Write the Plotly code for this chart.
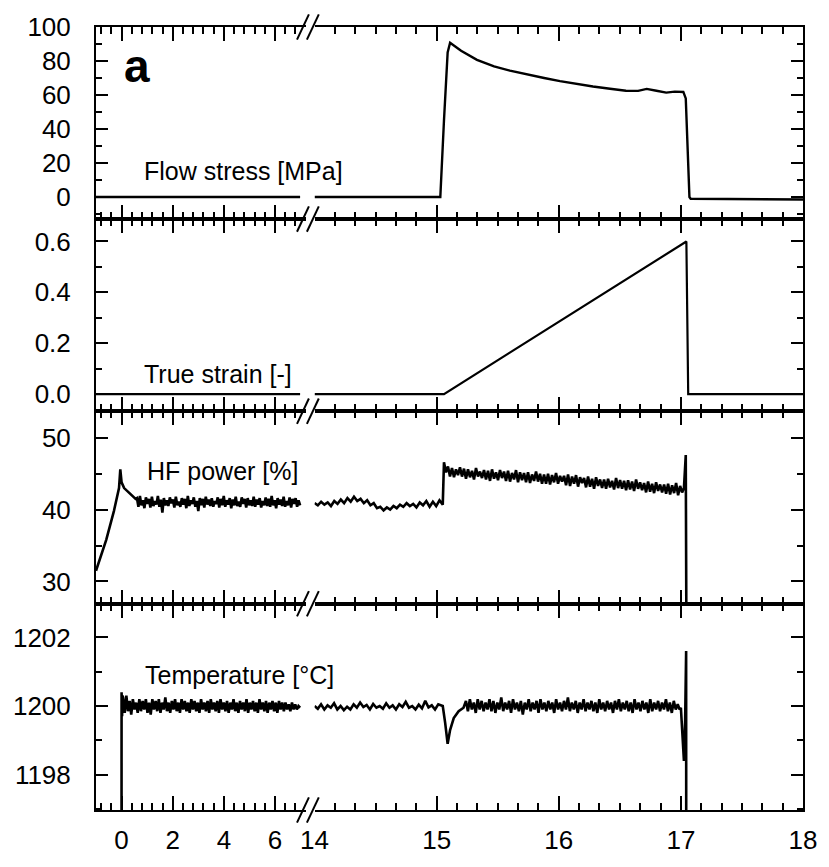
import numpy as np
import plotly.graph_objects as go

# ---------------- data ----------------
x_ticks_left = [0, 2, 4, 6]
x_ticks_right = [14, 15, 16, 17, 18]

# Flow stress [MPa]
stress_left_x = [-1.0, 6.98]
stress_left_y = [0.0, 0.0]
stress_right_x = [14.0, 15.03, 15.06, 15.09, 15.11, 15.2, 15.33, 15.47, 15.6, 15.74,
                  15.88, 16.01, 16.15, 16.28, 16.42, 16.55, 16.65, 16.72, 16.8, 16.88,
                  16.95, 17.02, 17.04, 17.055, 17.07, 17.08, 18.0]
stress_right_y = [0.0, 0.0, 45.0, 85.0, 90.7, 86.0, 80.7, 76.8, 74.3, 72.0,
                  70.0, 68.2, 66.5, 65.0, 63.7, 62.5, 62.4, 63.6, 62.5, 61.4,
                  62.0, 61.8, 58.0, 30.0, 0.0, -1.0, -1.5]

# True strain [-]
strain_left_x = [-1.0, 6.98]
strain_left_y = [0.0, 0.0]
strain_right_x = [14.0, 15.06, 17.045, 17.06, 18.0]
strain_right_y = [0.0, 0.0, 0.6, 0.0, 0.0]

# HF power [%]
hf_start_x = [-1.0, -0.6, -0.3, -0.1, -0.05, 0.0, 0.1, 0.25, 0.4, 0.55]
hf_start_y = [31.5, 35.8, 39.8, 43.0, 45.6, 43.8, 43.0, 42.5, 41.9, 41.5]
hf_left_noise = [41.6, 40.4, 41.9, 40.6, 41.3, 40.2, 41.7, 40.8, 41.5, 40.3,
                 41.8, 40.5, 41.2, 40.7, 41.9, 40.4, 41.4, 39.6, 41.6, 40.6,
                 41.3, 40.5, 41.7, 40.9, 41.4, 40.3, 41.8, 40.6, 41.1, 40.4,
                 41.6, 40.7, 41.5, 40.2, 41.9, 40.5, 41.3, 40.8, 41.7, 40.4,
                 41.2, 39.8, 41.6, 40.6, 41.5, 40.3, 41.8, 40.7, 41.4, 40.5,
                 41.6, 40.4, 41.2, 40.8, 41.7, 40.3, 41.5, 40.6, 41.9, 40.4,
                 41.3, 40.7, 41.6, 40.2, 41.4, 40.6, 41.8, 40.5, 41.1, 40.4,
                 41.7, 40.8, 41.5, 40.3, 41.6, 40.6, 41.3, 40.5, 41.8, 40.4,
                 41.4, 40.7, 41.6, 40.3, 41.2, 40.6, 41.7, 40.5, 41.5, 40.4,
                 41.9, 40.6, 41.3, 40.2, 41.6, 40.7, 41.4, 40.5, 41.8, 40.4,
                 41.2, 40.6, 41.7, 40.3, 41.5, 40.8, 41.6, 40.4, 41.3, 40.6]
hf_left_noise_t = [0.6, 6.98]
hf_pre = [40.9, 40.6, 41.1, 40.7, 41.0, 40.5, 41.2, 40.8, 41.4, 40.9,
          41.6, 41.1, 41.8, 41.2, 41.5, 40.9, 41.3, 40.6, 40.9, 40.2,
          40.4, 39.9, 40.3, 40.0, 40.5, 40.2, 40.7, 40.4, 40.9, 40.5,
          40.8, 40.3, 41.0, 40.6, 41.2, 40.4, 41.1, 40.5, 41.3, 40.7]
hf_pre_t = [14.0, 15.05]
hf_def = [46.6, 45.2, 46.0, 44.6, 45.8, 44.5, 45.6, 44.8, 45.9, 44.6,
          45.7, 44.3, 45.6, 44.5, 45.4, 44.2, 45.8, 44.6, 45.3, 44.4,
          45.5, 44.2, 45.4, 44.0, 45.6, 44.3, 45.2, 44.1, 45.5, 44.4,
          45.3, 44.0, 45.4, 43.9, 45.1, 44.2, 45.5, 43.8, 45.2, 44.1,
          45.1, 43.8, 45.2, 43.7, 44.9, 44.0, 45.3, 43.9, 45.0, 43.6,
          44.9, 43.6, 45.0, 43.5, 44.8, 43.8, 45.1, 43.6, 44.7, 43.9,
          44.7, 43.4, 44.9, 43.3, 44.6, 43.6, 44.8, 43.2, 44.5, 43.7,
          44.4, 43.1, 44.6, 43.2, 44.3, 42.9, 44.5, 43.3, 44.2, 43.0,
          44.2, 42.9, 44.3, 43.1, 44.0, 42.8, 44.4, 43.0, 44.1, 42.9,
          44.0, 42.7, 44.1, 42.8, 43.9, 42.6, 44.2, 42.9, 43.8, 42.7,
          43.7, 42.4, 43.9, 42.5, 43.6, 42.3, 43.8, 42.6, 43.5, 42.4,
          43.5, 42.2, 43.6, 42.1, 43.4, 42.3, 43.7, 42.0, 43.3, 42.4]
hf_def_t = [15.06, 17.01]
hf_end_x = [17.025, 17.04, 17.05, 18.0]
hf_end_y = [43.0, 47.6, 0.0, 0.0]

# Temperature [°C]
temp_start_x = [-1.0, -0.02, 0.0, 0.02, 0.04]
temp_start_y = [1150.0, 1150.0, 1200.4, 1199.7, 1200.3]
temp_left_noise = [1200.25, 1199.8, 1200.3, 1199.85, 1200.15, 1199.75, 1200.2, 1199.9, 1200.1, 1199.8,
                   1200.2, 1199.85, 1200.15, 1199.9, 1200.2, 1199.8, 1200.1, 1199.75, 1200.2, 1199.9,
                   1200.15, 1199.85, 1200.2, 1199.8, 1200.1, 1199.9, 1200.25, 1199.85, 1200.1, 1199.8,
                   1200.15, 1199.9, 1200.2, 1199.85, 1200.1, 1199.8, 1200.2, 1199.9, 1200.15, 1199.85,
                   1200.1, 1199.8, 1200.2, 1199.9, 1200.15, 1199.85, 1200.1, 1199.8, 1200.2, 1199.9,
                   1200.1, 1199.85, 1200.15, 1199.8, 1200.2, 1199.9, 1200.1, 1199.85, 1200.15, 1199.8,
                   1200.2, 1199.9, 1200.1, 1199.85, 1200.15, 1199.8, 1200.1, 1199.9, 1200.2, 1199.85,
                   1200.1, 1199.8, 1200.15, 1199.9, 1200.1, 1199.85, 1200.2, 1199.8, 1200.1, 1199.9,
                   1200.15, 1199.85, 1200.1, 1199.8, 1200.2, 1199.9, 1200.1, 1199.85, 1200.15, 1199.8,
                   1200.1, 1199.9, 1200.15, 1199.85, 1200.1, 1199.8, 1200.15, 1199.9, 1200.1, 1199.85,
                   1200.1, 1199.9, 1200.05, 1199.85, 1200.1, 1199.9, 1200.05, 1199.9, 1200.0, 1199.95]
temp_left_noise_t = [0.06, 6.98]
temp_pre = [1200.0, 1199.92, 1200.05, 1199.9, 1200.02, 1199.95, 1200.08, 1199.9, 1200.0, 1199.88,
            1199.98, 1199.9, 1200.05, 1199.95, 1200.1, 1199.97, 1200.03, 1199.9, 1200.06, 1199.95,
            1200.0, 1199.92, 1200.08, 1199.95, 1200.02, 1199.9, 1200.05, 1199.97, 1200.12, 1199.95,
            1200.0, 1199.9, 1200.04, 1199.93, 1200.15, 1199.96, 1200.02, 1199.9, 1200.05, 1200.0]
temp_pre_t = [14.0, 15.04]
temp_dip_x = [15.05, 15.07, 15.09, 15.11, 15.14, 15.18, 15.22]
temp_dip_y = [1200.0, 1199.5, 1198.9, 1199.3, 1199.65, 1199.85, 1199.95]
temp_def = [1200.15, 1199.85, 1200.2, 1199.9, 1200.1, 1199.8, 1200.2, 1199.9, 1200.15, 1199.85,
            1200.1, 1199.9, 1200.2, 1199.85, 1200.15, 1199.8, 1200.1, 1199.9, 1200.25, 1199.85,
            1200.1, 1199.9, 1200.15, 1199.8, 1200.2, 1199.9, 1200.1, 1199.85, 1200.15, 1199.75,
            1200.1, 1199.9, 1200.2, 1199.85, 1200.1, 1199.9, 1200.15, 1199.8, 1200.2, 1199.9,
            1200.1, 1199.85, 1200.15, 1199.9, 1200.1, 1199.8, 1200.2, 1199.9, 1200.1, 1199.85,
            1200.15, 1199.9, 1200.25, 1199.85, 1200.1, 1199.9, 1200.15, 1199.8, 1200.1, 1199.9,
            1200.2, 1199.85, 1200.1, 1199.9, 1200.15, 1199.85, 1200.1, 1199.8, 1200.2, 1199.9,
            1200.1, 1199.85, 1200.15, 1199.9, 1200.1, 1199.8, 1200.15, 1199.9, 1200.2, 1199.85,
            1200.1, 1199.9, 1200.15, 1199.85, 1200.1, 1199.8, 1200.2, 1199.9, 1200.1, 1199.85,
            1200.15, 1199.9, 1200.1, 1199.8, 1200.2, 1199.85, 1200.1, 1199.9, 1200.15, 1199.85,
            1200.1, 1199.9, 1200.2, 1199.85, 1200.1, 1199.8, 1200.15, 1199.9, 1200.05, 1199.9]
temp_def_t = [15.24, 16.99]
temp_end_x = [17.0, 17.025, 17.035, 17.043, 17.05]
temp_end_y = [1199.95, 1198.4, 1199.6, 1201.6, 1150.0]

panel_labels = ["Flow stress [MPa]", "True strain [-]", "HF power [%]", "Temperature [°C]"]
panel_label_pos = [(0.79, 15.5), (0.8, 0.08), (0.9, 45.4), (0.83, 1200.9)]

# ---------------- assemble series ----------------
def sampled(t, vals):
    return list(np.linspace(t[0], t[1], len(vals))), list(vals)

hx1, hy1 = sampled(hf_left_noise_t, hf_left_noise)
hf_left_x = hf_start_x + hx1
hf_left_y = hf_start_y + hy1
hx2, hy2 = sampled(hf_pre_t, hf_pre)
hx3, hy3 = sampled(hf_def_t, hf_def)
hf_right_x = hx2 + hx3 + hf_end_x
hf_right_y = hy2 + hy3 + hf_end_y

tx1, ty1 = sampled(temp_left_noise_t, temp_left_noise)
temp_left_x = temp_start_x + tx1
temp_left_y = temp_start_y + ty1
tx2, ty2 = sampled(temp_pre_t, temp_pre)
tx3, ty3 = sampled(temp_def_t, temp_def)
temp_right_x = tx2 + temp_dip_x + tx3 + temp_end_x
temp_right_y = ty2 + temp_dip_y + ty3 + temp_end_y

series = [
    (stress_left_x, stress_left_y, stress_right_x, stress_right_y, 2.4),
    (strain_left_x, strain_left_y, strain_right_x, strain_right_y, 2.2),
    (hf_left_x, hf_left_y, hf_right_x, hf_right_y, 2.6),
    (temp_left_x, temp_left_y, temp_right_x, temp_right_y, 2.6),
]

# ---------------- layout ----------------
W, H = 829, 867
ML, MR, MT, MB = 96, 19, 26, 38
PW, PH = W - ML - MR, H - MT - MB

def px2paper_x(px):
    return (px - ML) / PW

def px2paper_y(py):
    return (H - MB - py) / PH

L_DOM = [0.0, px2paper_x(307.8)]
R_DOM = [px2paper_x(316.7), 1.0]
borders = [26, 223, 420, 617.5, 829]
ROW_DOM = [[px2paper_y(borders[i + 1]), px2paper_y(borders[i])] for i in range(4)]
ROW_DOM[-1][0] = 0.0
ROW_DOM[0][1] = 1.0

yranges = [[-13, 100], [-0.067, 0.688], [26.9, 53.7], [1196.97, 1202.98]]
ydticks = [20, 0.2, 10, 2]
ytick0 = [0, 0, 0, 1198]
yminor = [10, 0.1, 5, 1]
yfmt = ["d", ".1f", "d", "d"]

FONT = "Liberation Sans, Arial, Helvetica, sans-serif"
tickfont = dict(family=FONT, size=26, color="black")

fig = go.Figure()
layout = dict(width=W, height=H, margin=dict(l=ML, r=MR, t=MT, b=MB),
              plot_bgcolor="white", paper_bgcolor="white", showlegend=False,
              font=dict(family=FONT, size=24, color="black"))

def axname(k, a):
    return f"{a}axis" if k == 1 else f"{a}axis{k}"

def ref(k, a):
    return a if k == 1 else f"{a}{k}"

for i in range(4):
    kL, kR = 2 * i + 1, 2 * i + 2
    lx, ly, rx, ry, lw = series[i]
    fig.add_trace(go.Scatter(x=lx, y=ly, mode="lines", line=dict(color="black", width=lw),
                             xaxis=ref(kL, "x"), yaxis=ref(kL, "y"), hoverinfo="skip"))
    fig.add_trace(go.Scatter(x=rx, y=ry, mode="lines", line=dict(color="black", width=lw),
                             xaxis=ref(kR, "x"), yaxis=ref(kR, "y"), hoverinfo="skip"))
    common_x = dict(showline=True, linecolor="black", linewidth=2, mirror="ticks",
                    ticks="inside", ticklen=14, tickwidth=2, tickcolor="black",
                    showgrid=False, zeroline=False, showticklabels=(i == 3),
                    tickfont=tickfont, ticklabelstandoff=6, fixedrange=True)
    layout[axname(kL, "x")] = dict(common_x, domain=L_DOM, range=[-1, 7.2], anchor=ref(kL, "y"),
                                   tickmode="array", tickvals=x_ticks_left,
                                   ticktext=[str(v) for v in x_ticks_left],
                                   minor=dict(tick0=0, dtick=0.4, ticklen=7, tickwidth=2,
                                              ticks="inside", tickcolor="black", showgrid=False))
    layout[axname(kR, "x")] = dict(common_x, domain=R_DOM, range=[14, 18], anchor=ref(kR, "y"),
                                   tickmode="array", tickvals=x_ticks_right,
                                   ticktext=[str(v) for v in x_ticks_right],
                                   minor=dict(tick0=14, dtick=1 / 6, ticklen=7, tickwidth=2,
                                              ticks="inside", tickcolor="black", showgrid=False))
    common_y = dict(domain=ROW_DOM[i], range=yranges[i], showline=True, linecolor="black",
                    linewidth=2, ticks="inside", ticklen=12, tickwidth=2, tickcolor="black",
                    tick0=ytick0[i], dtick=ydticks[i], tickformat=yfmt[i],
                    minor=dict(dtick=yminor[i], ticklen=6, tickwidth=2, ticks="inside",
                               tickcolor="black", showgrid=False),
                    showgrid=False, zeroline=False, tickfont=tickfont, fixedrange=True)
    layout[axname(kL, "y")] = dict(common_y, anchor=ref(kL, "x"), side="left",
                                   ticklabelstandoff=18)
    layout[axname(kR, "y")] = dict(common_y, anchor=ref(kR, "x"), side="right",
                                   showticklabels=False)

annotations = []
for i in range(4):
    kL = 2 * i + 1
    ax_, ay_ = panel_label_pos[i]
    annotations.append(dict(x=ax_, y=ay_, xref=ref(kL, "x"), yref=ref(kL, "y"),
                            text=panel_labels[i], showarrow=False, xanchor="left",
                            yanchor="middle", font=dict(family=FONT, size=25, color="black")))
annotations.append(dict(x=0.6, y=77, xref="x", yref="y", text="<b>a</b>", showarrow=False,
                        xanchor="center", yanchor="middle",
                        font=dict(family=FONT, size=46, color="black")))
layout["annotations"] = annotations

# axis-break marks (//)
shapes = []
for yb in borders:
    for xc in (305.0, 315.0):
        shapes.append(dict(type="line", xref="paper", yref="paper",
                           x0=px2paper_x(xc - 6), y0=px2paper_y(yb + 13),
                           x1=px2paper_x(xc + 6), y1=px2paper_y(yb - 13),
                           line=dict(color="black", width=2)))
layout["shapes"] = shapes

fig.update_layout(**layout)
fig.write_html("out.html", config={"displayModeBar": False, "staticPlot": True},
               post_script=("document.body.style.margin='0px';"
                            "document.body.style.overflow='hidden';"))
